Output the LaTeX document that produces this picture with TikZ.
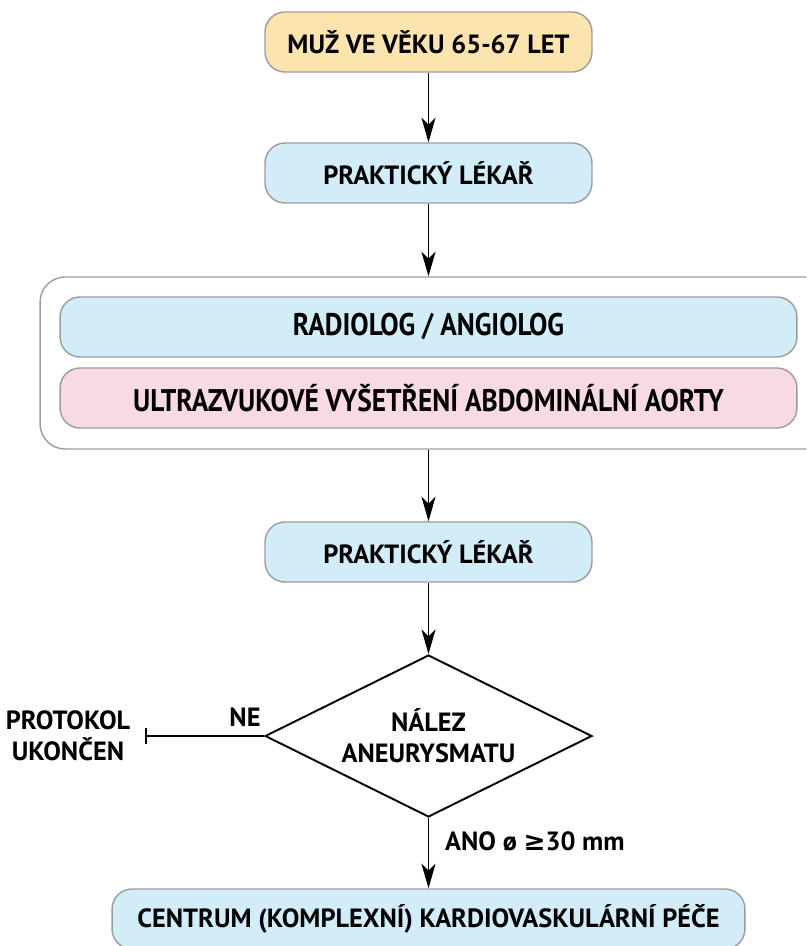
\documentclass[tikz,border=0pt]{standalone}
\usepackage{fontspec}
\setmainfont{PT Sans}
\newfontfamily\condfont{PT Sans}[FakeStretch=0.875]
\newfontfamily\symfont{DejaVu Sans}
\usetikzlibrary{shapes.geometric, arrows.meta}

\definecolor{boxyellow}{HTML}{FBE4AD}
\definecolor{boxblue}{HTML}{D2ECF8}
\definecolor{boxpink}{HTML}{F8DAE6}
\definecolor{boxline}{HTML}{9C9C9C}

\begin{document}
\begin{tikzpicture}[x=0.02cm, y=-0.02cm, font=\bfseries\fontsize{15}{17.5}\selectfont]

\useasboundingbox (0,0) rectangle (806,946);
\clip (0,0) rectangle (806,946);

\tikzstyle{flowbox} = [draw=boxline, line width=0.8pt, rounded corners=0.4cm, minimum height=1.2cm, align=center]
\tikzstyle{condtext} = [font=\condfont\bfseries\fontsize{17.8}{20}\selectfont]
\tikzstyle{flow} = [line width=1.1pt, -{Stealth[length=14pt, width=8pt, inset=4pt]}]

%Start
\node[flowbox, fill=boxyellow, minimum width=6.54cm] (man) at (428.5,42) {MUŽ VE VĚKU 65-67 LET};

%First doctor
\node[flowbox, fill=boxblue, minimum width=6.54cm] (doc1) at (428.5,173) {PRAKTICKÝ LÉKAŘ};

%% Examination group
\node[draw=boxline, line width=0.8pt, rounded corners=0.5cm, minimum width=15.8cm, minimum height=3.44cm] (group) at (435,363) {};
\node[flowbox, fill=boxblue, minimum width=14.74cm, condtext] (radio) at (428.5,327) {RADIOLOG / ANGIOLOG};
\node[flowbox, fill=boxpink, minimum width=14.74cm, condtext] (usg) at (428.5,398) {ULTRAZVUKOVÉ VYŠETŘENÍ ABDOMINÁLNÍ AORTY};

%Second doctor
\node[flowbox, fill=boxblue, minimum width=6.54cm] (doc2) at (428.5,552) {PRAKTICKÝ LÉKAŘ};

%Decision
\node[draw, diamond, shape aspect=2, line width=1.1pt, inner sep=0pt, minimum width=6.54cm, minimum height=3.24cm, align=center] (find) at (428.5,736) {NÁLEZ\\ANEURYSMATU};

\coordinate (stop) at (145,736);
\node[align=center] (end) at (68,736) {PROTOKOL\\UKONČEN};
\node (no) at (245,717) {NE};

%Centre
\node[flowbox, fill=boxblue, minimum width=12.66cm] (centre) at (428.5,919) {CENTRUM (KOMPLEXNÍ) KARDIOVASKULÁRNÍ PÉČE};
\node[anchor=west] (yes) at (439,841) {ANO ø {\symfont ≥}30 mm};

\draw[flow] (man) -- (doc1);
\draw[flow] (doc1) -- (doc1.south |- group.north);
\draw[flow] (doc1.south |- group.south) -- (doc2);
\draw[flow] (doc2) -- (find);
\draw[flow] (find) -- (centre);
\draw[line width=1.1pt, -{Bar[width=9pt]}] (find.west) -- (stop);

\end{tikzpicture}
\end{document}
